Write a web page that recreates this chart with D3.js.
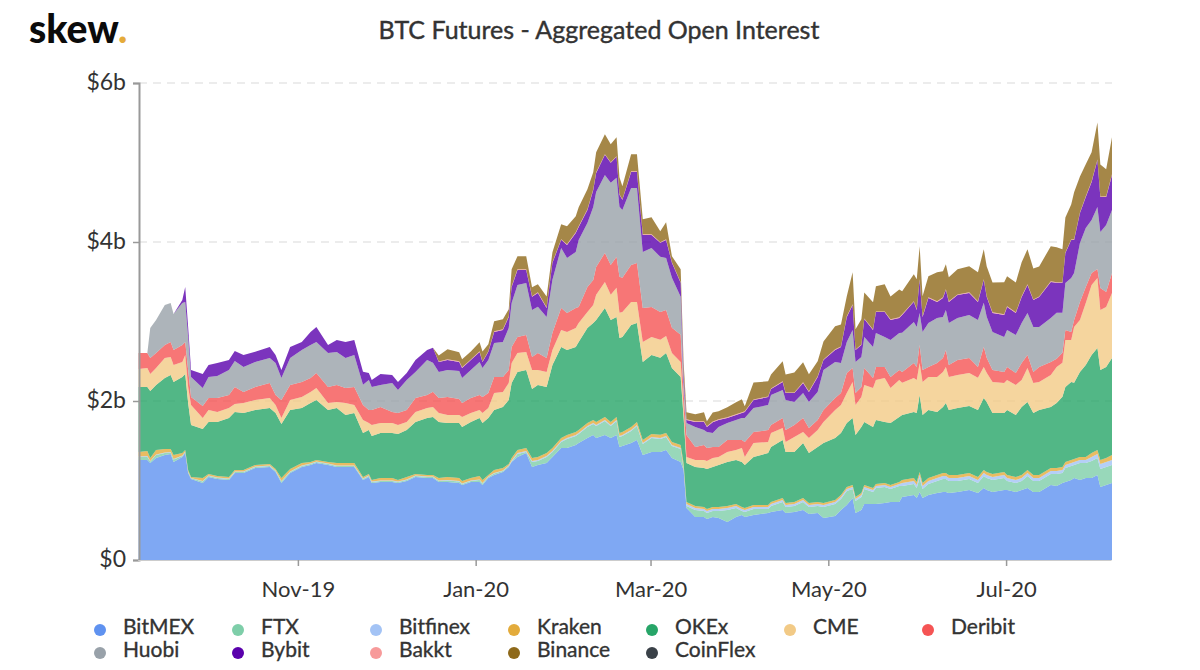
<!DOCTYPE html>
<html><head><meta charset="utf-8">
<script src="https://cdnjs.cloudflare.com/ajax/libs/d3/7.8.5/d3.min.js"></script>
<style>html,body{margin:0;padding:0;background:#fff}svg{display:block}text{font-family:Lato,sans-serif}</style>
</head><body><div id="chart"></div>
<script>
const startDate = "2019-09-07";
const days = [0,3,4,6,9,11,12,15,16,17,
18,22,24,27,31,33,36,40,45,47,
49,52,56,59,61,65,68,71,74,77,
79,80,83,87,89,92,95,99,101,103,
106,110,111,114,117,118,120,122,125,127,
128,130,133,135,137,140,142,145,147,150,
151,154,156,157,160,162,164,165,166,169,
171,173,176,179,181,183,186,187,188,191,
194,195,197,199,202,205,207,208,211,216,
217,221,222,225,228,230,233,235,239,241,
243,245,246,248,249,252,253,256,258,261,
262,266,267,268,269,271,274,276,277,278,
281,285,288,290,291,293,297,298,301,303,
305,307,309,313,315,317,318,320,321,323,
325,327,329,330,332,334];
const bitmex = [1258,1258,1220,1283,1321,1333,1233,1296,1346,1094,
1019,969,1044,1019,1006,1094,1094,1157,1170,1107,
969,1094,1170,1195,1220,1195,1170,1170,1170,1006,
1044,969,981,981,969,994,1044,1032,1032,981,
981,969,943,981,981,943,1032,1069,1107,1170,
1233,1296,1346,1170,1195,1220,1296,1409,1409,1447,
1472,1535,1573,1535,1573,1535,1573,1422,1434,1472,
1510,1321,1359,1359,1384,1283,1233,1132,654,541,
541,516,541,528,478,541,566,541,566,591,
604,629,591,604,629,579,591,528,554,629,
692,780,591,629,704,704,704,717,730,730,
793,818,780,855,780,818,843,855,855,843,
855,881,843,906,881,855,881,881,855,881,
906,855,855,943,931,969,981,1006,1032,1006,
1032,1032,1069,918,943,969];
const ftx = [38,42,20,38,25,20,30,13,13,13,
8,20,13,13,13,13,13,13,13,13,
20,13,13,13,13,13,13,13,13,13,
13,13,13,13,13,13,13,13,13,13,
20,20,13,13,25,20,13,20,13,13,
5,38,13,63,50,75,63,75,113,113,
113,138,138,151,176,151,176,126,126,151,
176,138,176,164,164,151,164,25,25,88,
75,75,75,88,151,113,50,63,75,50,
75,101,75,75,101,88,88,138,151,138,
176,113,151,164,189,151,201,201,164,201,
138,138,126,176,113,138,151,164,164,151,
138,138,126,151,151,151,151,113,113,113,
151,138,138,138,151,126,176,176,164,214,
189,214,214,226,226,226];
const bitfinex = [6,7,5,6,6,5,6,5,5,5,
4,5,5,5,5,5,5,5,5,5,
5,5,5,5,5,5,5,5,5,5,
5,5,5,5,5,5,5,5,5,5,
5,5,5,5,6,5,5,5,5,5,
13,13,13,13,13,13,13,13,13,13,
13,13,13,13,13,13,13,13,13,13,
13,13,13,13,13,13,13,13,25,25,
25,25,25,25,25,25,25,25,25,25,
25,25,25,25,25,25,25,25,25,25,
25,25,25,25,25,25,25,25,25,25,
38,38,38,38,38,38,38,38,38,38,
38,38,38,38,38,38,38,38,38,38,
38,38,38,38,38,38,38,38,38,38,
38,50,50,63,63,63];
const kraken = [57,64,38,57,44,38,52,32,20,20,
13,38,20,20,20,20,20,20,20,20,
38,32,32,20,20,20,32,32,32,20,
20,20,32,32,20,32,20,20,20,32,
38,38,32,32,44,38,20,38,32,20,
32,38,38,38,38,38,38,38,38,38,
38,38,38,38,38,38,38,38,38,38,
38,38,38,38,38,38,38,50,25,25,
25,25,25,25,25,25,25,25,25,25,
25,25,25,25,25,25,25,25,25,25,
25,25,25,25,25,25,25,25,25,25,
38,38,38,38,38,38,38,38,38,38,
38,38,38,38,38,38,38,38,38,38,
38,38,38,38,38,38,38,38,38,38,
38,50,50,50,50,63];
const okex = [818,805,843,818,893,931,918,956,956,843,
654,616,654,679,742,730,717,692,704,704,
679,742,692,742,755,654,692,604,629,554,
554,554,566,566,579,591,654,717,730,704,
679,692,679,704,730,717,717,755,767,805,
943,981,981,868,906,830,1044,1145,1069,1069,
1107,1195,1220,1283,1371,1283,1258,1195,1195,1283,
1245,981,994,969,1006,931,855,579,491,491,
491,503,503,528,554,554,566,541,604,654,
692,730,642,629,692,629,692,755,780,780,
805,843,780,830,793,767,805,767,780,818,
818,830,868,969,855,855,793,830,881,818,
843,843,843,906,881,767,742,818,780,855,
855,780,818,767,818,881,943,981,956,1069,
1157,1233,1283,1132,1145,1220];
const cme = [226,239,214,214,252,226,214,189,239,201,
252,138,151,126,126,101,126,126,126,101,
75,126,138,138,151,88,75,151,101,164,
88,138,126,126,113,101,126,126,126,113,
101,101,126,113,101,126,126,214,189,214,
252,239,226,239,189,189,189,214,226,239,
239,201,226,315,327,315,365,315,315,289,
264,252,226,226,214,189,189,126,75,88,
101,101,113,101,126,126,176,101,176,138,
176,151,126,189,138,189,214,264,352,352,
377,453,377,377,465,491,503,554,440,465,
403,428,415,403,415,415,440,440,453,415,
415,415,403,390,365,390,377,377,377,340,
428,377,352,403,453,428,591,528,704,654,
780,881,881,755,755,818];
const deribit = [201,189,201,189,164,189,189,214,164,214,
101,151,151,176,164,214,138,164,189,126,
226,189,189,176,189,201,214,189,226,189,
164,189,201,138,151,151,176,164,189,189,
226,201,176,189,189,201,189,201,189,164,
201,201,214,164,214,176,214,277,239,252,
201,315,315,352,365,377,390,453,428,465,
491,428,377,352,327,315,340,176,277,164,
189,164,138,126,151,126,101,189,138,151,
101,126,151,151,176,126,126,151,151,151,
252,176,151,126,214,126,164,138,138,126,
138,189,164,226,151,126,176,176,214,151,
189,189,138,252,189,151,138,164,151,214,
164,138,189,164,101,126,126,101,88,226,
201,151,113,277,189,252];
const huobi = [0,0,377,415,503,491,453,528,503,415,
252,226,264,277,315,327,315,315,315,403,
277,340,403,415,390,428,415,377,403,252,
377,289,277,365,289,377,327,440,365,327,
340,352,315,352,415,365,415,428,440,528,
554,654,654,591,579,516,667,755,692,704,
843,805,918,943,981,1032,994,881,855,969,
943,704,742,692,654,629,478,126,151,252,
189,201,176,252,214,252,277,302,302,315,
377,352,377,289,315,327,352,503,453,377,
390,478,390,377,390,390,428,377,465,465,
491,516,503,403,478,554,566,516,503,528,
528,541,591,554,516,478,440,465,478,503,
528,566,503,554,579,503,591,679,591,742,
742,667,780,704,843,793];
const bybit = [0,0,0,0,0,0,0,38,189,126,
88,176,151,164,126,126,151,126,138,101,
101,138,101,164,189,101,151,201,189,164,
88,88,138,101,101,88,151,126,189,126,
126,113,126,126,126,75,101,138,151,138,
201,189,164,164,176,113,214,101,164,239,
164,164,214,239,252,252,264,151,126,201,
201,214,164,176,226,189,176,126,38,63,
101,63,138,88,63,63,63,75,101,101,
75,101,88,113,126,126,189,126,151,201,
315,315,151,151,226,214,264,315,252,189,
226,252,214,415,189,315,201,239,252,264,
289,277,226,289,252,239,277,289,277,327,
352,340,377,453,377,377,377,478,415,377,
390,478,591,440,352,440];
const bakkt = [0,0,0,0,0,0,0,0,0,0,
0,0,0,0,0,0,0,0,0,0,
0,0,0,0,0,0,0,0,0,0,
0,0,0,0,0,0,0,0,0,8,
8,8,8,8,8,8,8,8,8,8,
8,8,8,8,8,8,8,8,8,8,
8,8,8,8,8,8,8,8,8,8,
8,8,8,8,8,8,8,8,8,8,
8,8,8,8,8,8,8,8,8,8,
8,8,8,8,8,8,8,8,8,8,
8,8,8,8,8,8,8,8,8,8,
8,8,8,8,8,8,8,8,8,8,
8,8,8,8,8,8,8,8,8,8,
8,8,8,8,8,8,8,8,8,8,
8,8,8,8,8,8];
const binance = [0,0,0,0,0,0,0,0,0,0,
0,0,0,0,0,0,0,0,0,0,
0,0,0,0,0,0,0,0,0,0,
0,0,0,0,0,0,0,0,0,75,
126,113,101,101,113,126,88,126,126,88,
214,164,164,113,101,138,126,189,226,201,
239,252,214,252,252,226,239,214,164,214,
214,189,214,138,214,75,164,126,88,88,
113,63,113,101,126,151,164,63,214,189,
176,252,226,252,252,214,189,226,289,277,
252,403,252,315,327,340,315,340,289,352,
289,340,377,415,252,264,365,327,315,302,
315,327,365,377,377,377,403,377,377,428,
440,390,377,440,440,415,440,440,591,453,
403,365,465,403,340,465];
const coinflex = [0,0,0,0,0,0,0,0,0,0,
0,0,0,0,0,0,0,0,0,0,
0,0,0,0,0,0,0,0,0,0,
0,0,0,0,0,0,0,0,0,0,
0,0,0,0,0,0,0,0,0,0,
0,0,0,0,0,0,0,0,0,0,
0,0,0,0,0,0,0,0,0,0,
0,0,0,0,0,0,0,0,0,0,
0,0,0,0,0,0,0,0,0,0,
0,0,0,0,0,0,0,0,0,0,
0,0,0,0,0,0,0,0,0,0,
0,0,0,0,0,0,0,0,0,0,
0,0,0,0,0,0,0,0,0,0,
0,0,0,0,0,0,0,0,0,0,
0,0,0,0,0,0];

const seriesNames = ["BitMEX","FTX","Bitfinex","Kraken","OKEx","CME","Deribit","Huobi","Bybit","Bakkt","Binance","CoinFlex"];
const seriesValues = [bitmex,ftx,bitfinex,kraken,okex,cme,deribit,huobi,bybit,bakkt,binance,coinflex];
const seriesColors = ["#5f92f0","#7ecea9","#a3c3f5","#e3ab3b","#27a568","#f2ca86","#f55454","#98a1a9","#5a01ac","#f79a9a","#8e691a","#3a4148"];
const yTicks = [0,2000,4000,6000];
const yTickLabels = ["$0","$2b","$4b","$6b"];
const xTickDates = ["2019-11-01","2020-01-01","2020-03-01","2020-05-01","2020-07-01"];
const xTickLabels = ["Nov-19","Jan-20","Mar-20","May-20","Jul-20"];
const titleText = "BTC Futures - Aggregated Open Interest";

const W = 1200, H = 670;
const parse = d3.utcParse("%Y-%m-%d");
const dateOf = n => d3.utcDay.offset(parse(startDate), n);
const table = days.map((d,i)=>{
  const row = {date: dateOf(d)};
  seriesNames.forEach((s,k)=>row[s]=seriesValues[k][i]);
  return row;
});
const svg = d3.select("#chart").append("svg").attr("width",W).attr("height",H).attr("viewBox",`0 0 ${W} ${H}`);
const x = d3.scaleUtc().domain([dateOf(0),dateOf(334)]).range([138.6,1112]);
const y = d3.scaleLinear().domain([0,6000]).range([560,83]);
const color = d3.scaleOrdinal(seriesNames,seriesColors);

// grid
svg.append("g").selectAll("line").data(yTicks.slice(1)).join("line")
  .attr("x1",139).attr("x2",1112).attr("y1",d=>y(d)).attr("y2",d=>y(d))
  .attr("stroke","#e6e6e6").attr("stroke-width",1.5).attr("stroke-dasharray","8 6");

// stacked areas
const stack = d3.stack().keys(seriesNames);
const area = d3.area().x(d=>x(d.data.date)).y0(d=>y(d[0])).y1(d=>y(d[1])).curve(d3.curveLinear);
svg.append("g").selectAll("path").data(stack(table)).join("path")
  .attr("d",area).attr("fill",d=>color(d.key)).attr("fill-opacity",0.8);

// y axis
const yAxis = d3.axisLeft(y).tickValues(yTicks).tickFormat((d,i)=>yTickLabels[i]).tickSize(6).tickPadding(7);
const gy = svg.append("g").attr("transform","translate(139,0)").call(yAxis);
gy.select(".domain").attr("stroke","#999").attr("stroke-width",2);
gy.selectAll(".tick line").attr("stroke","#999").attr("stroke-width",1.5);
gy.selectAll(".tick text").attr("fill","#333").attr("dy","0.3em").style("font-family","Lato").style("font-size","23px");

// x axis
const xAxis = d3.axisBottom(x).tickValues(xTickDates.map(s=>parse(s))).tickFormat((d,i)=>xTickLabels[i]).tickSize(6).tickPadding(15).tickSizeOuter(0);
const gx = svg.append("g").attr("transform","translate(-1,560)").call(xAxis);
gx.select(".domain").attr("stroke","#ccc").attr("stroke-width",1);
gx.selectAll(".tick line").attr("stroke","#999").attr("stroke-width",1.5);
gx.selectAll(".tick text").attr("fill","#333").style("font-family","Lato").style("font-size","22px");

// title
svg.append("text").attr("x",599).attr("y",39).attr("text-anchor","middle")
  .attr("fill","#333").attr("stroke","#333").attr("stroke-width",0.4)
  .style("font-size","25px").text(titleText);

// logo
const logo = svg.append("text").attr("x",29).attr("y",43).attr("fill","#0b0b0b")
  .style("font-size","39px").style("font-weight","900");
logo.append("tspan").text("skew");
logo.append("tspan").attr("fill","#e5ab3a").text(".");

// legend
const legend = svg.append("g").selectAll("g").data(seriesNames).join("g")
  .attr("transform",(d,i)=>`translate(${100+138*(i%7)},${630+23*Math.floor(i/7)})`);
legend.append("circle").attr("r",6).attr("fill",d=>color(d));
legend.append("text").attr("x",23).attr("y",4).attr("fill","#333").attr("stroke","#333").attr("stroke-width",0.35)
  .style("font-size","21px").text(d=>d);
</script></body></html>
